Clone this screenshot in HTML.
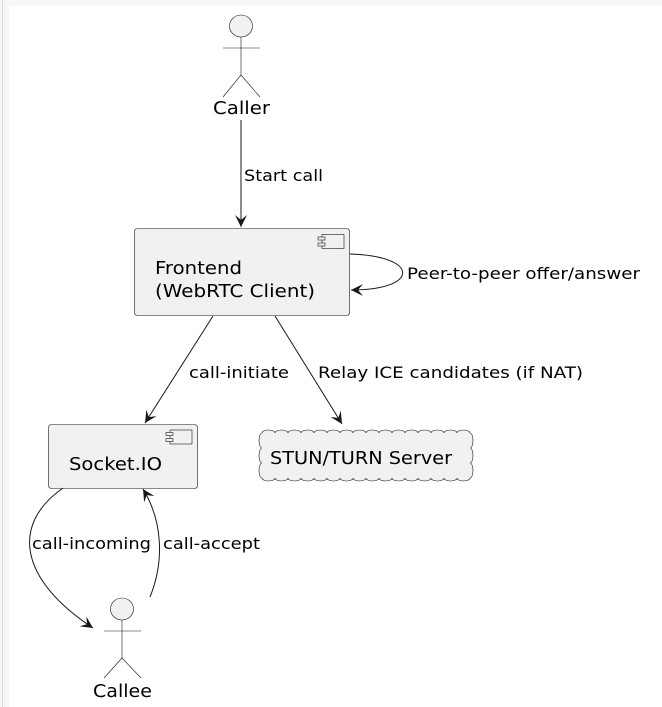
<!DOCTYPE html>
<html><head><meta charset="utf-8"><style>
html,body{margin:0;padding:0;background:#f7f7f7;}
svg{display:block;}
text{font-family:"DejaVu Sans","Liberation Sans",sans-serif;fill:#000;}
</style></head><body>
<svg width="662" height="707" viewBox="0 0 662 707" xmlns="http://www.w3.org/2000/svg">
<rect x="0" y="0" width="662" height="707" fill="#f7f7f7"/>
<line x1="2.5" y1="0" x2="2.5" y2="707" stroke="#d8d8d8" stroke-width="1"/>
<rect x="9" y="6" width="653" height="701" fill="#fff"/>
<defs>
<marker id="ah" markerWidth="14" markerHeight="14" refX="12" refY="6" orient="auto" markerUnits="userSpaceOnUse">
<path d="M0,0 L12,6 L0,12 L5,6 Z" fill="#181818"/>
</marker>
</defs>
<g stroke="#181818" fill="none" stroke-width="1">
<ellipse cx="241" cy="26" rx="11.5" ry="11" fill="#f1f1f1" stroke-width="0.6"/>
<line x1="241" y1="37" x2="241" y2="75" stroke-width="0.6"/>
<line x1="223" y1="48" x2="260" y2="48" stroke-width="0.6"/>
<path d="M223,97 L241,75 L260,97" stroke-width="0.6"/>
<ellipse cx="122" cy="609" rx="11.5" ry="11" fill="#f1f1f1" stroke-width="0.6"/>
<line x1="122" y1="620" x2="122" y2="658" stroke-width="0.6"/>
<line x1="104" y1="631" x2="141" y2="631" stroke-width="0.6"/>
<path d="M104,678 L122,658 L141,678" stroke-width="0.6"/>
<rect x="134.5" y="228.5" width="215" height="87" rx="3" fill="#f1f1f1" stroke-width="0.6"/>
<rect x="322" y="234.5" width="22" height="14" fill="#f1f1f1" stroke-width="0.6"/>
<rect x="318" y="237" width="7" height="3" fill="#f1f1f1" stroke-width="0.6"/>
<rect x="318" y="243" width="7" height="3" fill="#f1f1f1" stroke-width="0.6"/>
<rect x="48.5" y="424.5" width="149" height="64" rx="3" fill="#f1f1f1" stroke-width="0.6"/>
<rect x="170" y="430" width="22" height="14" fill="#f1f1f1" stroke-width="0.6"/>
<rect x="166" y="432.5" width="7" height="3" fill="#f1f1f1" stroke-width="0.6"/>
<rect x="166" y="438.5" width="7" height="3" fill="#f1f1f1" stroke-width="0.6"/>
<path fill="#f1f1f1" stroke-width="0.6" d="M262,433 a6.5,3 0 0,1 13,0 a6.5,3 0 0,1 13,0 a6.5,3 0 0,1 13,0 a6.5,3 0 0,1 13,0 a6.5,3 0 0,1 13,0 a6.5,3 0 0,1 13,0 a6.5,3 0 0,1 13,0 a6.5,3 0 0,1 13,0 a6.5,3 0 0,1 13,0 a6.5,3 0 0,1 13,0 a6.5,3 0 0,1 13,0 a6.5,3 0 0,1 13,0 a6.5,3 0 0,1 13,0 a6.5,3 0 0,1 13,0 a6.5,3 0 0,1 13,0 a6.5,3 0 0,1 13,0 a3,7.5 0 0,1 0,15 a3,7.5 0 0,1 0,15 a3,7.5 0 0,1 0,15 a6.5,3 0 0,1 -13,0 a6.5,3 0 0,1 -13,0 a6.5,3 0 0,1 -13,0 a6.5,3 0 0,1 -13,0 a6.5,3 0 0,1 -13,0 a6.5,3 0 0,1 -13,0 a6.5,3 0 0,1 -13,0 a6.5,3 0 0,1 -13,0 a6.5,3 0 0,1 -13,0 a6.5,3 0 0,1 -13,0 a6.5,3 0 0,1 -13,0 a6.5,3 0 0,1 -13,0 a6.5,3 0 0,1 -13,0 a6.5,3 0 0,1 -13,0 a6.5,3 0 0,1 -13,0 a6.5,3 0 0,1 -13,0 a3,7.5 0 0,1 0,-15 a3,7.5 0 0,1 0,-15 a3,7.5 0 0,1 0,-15 Z"/>
<line x1="241" y1="120" x2="241" y2="227" marker-end="url(#ah)"/>
<path d="M350,254 C420,256 420,290 351,290" marker-end="url(#ah)"/>
<line x1="213" y1="316" x2="145" y2="423" marker-end="url(#ah)"/>
<line x1="275" y1="316" x2="342" y2="424" marker-end="url(#ah)"/>
<path d="M63,488 C10,525 20,580 93,628" marker-end="url(#ah)"/>
<path d="M150,597 C165,560 162,520 143,489" marker-end="url(#ah)"/>
</g>
<text x="213" y="114" font-size="18" textLength="57" lengthAdjust="spacingAndGlyphs">Caller</text>
<text x="93" y="697" font-size="18" textLength="59" lengthAdjust="spacingAndGlyphs">Callee</text>
<text x="155" y="274" font-size="18" textLength="87" lengthAdjust="spacingAndGlyphs">Frontend</text>
<text x="155" y="297" font-size="18" textLength="160" lengthAdjust="spacingAndGlyphs">(WebRTC Client)</text>
<text x="69" y="470" font-size="18" textLength="93" lengthAdjust="spacingAndGlyphs">Socket.IO</text>
<text x="270" y="464" font-size="18" textLength="182" lengthAdjust="spacingAndGlyphs">STUN/TURN Server</text>
<text x="244" y="181" font-size="16" textLength="79" lengthAdjust="spacingAndGlyphs">Start call</text>
<text x="407" y="279" font-size="16" textLength="233" lengthAdjust="spacingAndGlyphs">Peer-to-peer offer/answer</text>
<text x="189" y="378" font-size="16" textLength="100" lengthAdjust="spacingAndGlyphs">call-initiate</text>
<text x="318" y="378" font-size="16" textLength="265" lengthAdjust="spacingAndGlyphs">Relay ICE candidates (if NAT)</text>
<text x="32" y="549" font-size="16" textLength="119" lengthAdjust="spacingAndGlyphs">call-incoming</text>
<text x="163" y="549" font-size="16" textLength="97" lengthAdjust="spacingAndGlyphs">call-accept</text>
</svg>
</body></html>
